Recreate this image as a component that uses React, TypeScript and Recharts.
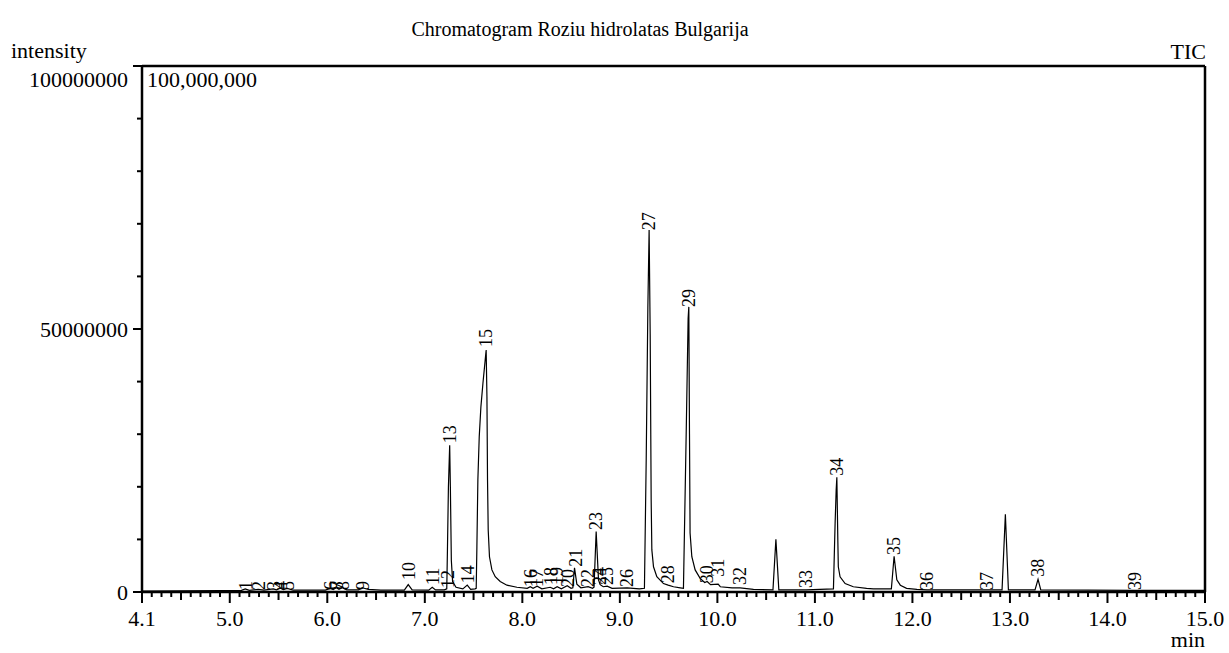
import React from 'react';
import { ComposedChart, Line, Scatter, XAxis, YAxis, ReferenceLine } from 'recharts';

const chartTitle = 'Chromatogram Roziu hidrolatas Bulgarija';
const yAxisTitle = 'intensity';
const traceName = 'TIC';
const scaleNote = '100,000,000';
const xAxisUnit = 'min';

const xMajorTicks = [4.1, 5, 6, 7, 8, 9, 10, 11, 12, 13, 14, 15];
const xMajorLabels = ['4.1', '5.0', '6.0', '7.0', '8.0', '9.0', '10.0', '11.0', '12.0', '13.0', '14.0', '15.0'];
const xAllTicks = Array.from({ length: 110 }, (_, i) => (41 + i) / 10);

// intensity in millions
const yAllTicks = [0, 10, 20, 30, 40, 50, 60, 70, 80, 90, 100];
const yMajorTicks = [0, 50, 100];
const yMajorLabels = ['0', '50000000', '100000000'];

// [retention time (min), intensity (millions)]
const chromatogramTrace: [number, number][] = [
  [4.10, 0.15], [4.50, 0.2], [4.90, 0.25], [5.12, 0.3], [5.159, 0.6], [5.20, 0.3],
  [5.292, 0.5], [5.35, 0.35], [5.446, 0.6], [5.48, 0.4], [5.518, 0.7], [5.55, 0.45],
  [5.589, 0.7], [5.65, 0.35], [5.98, 0.35], [6.03, 0.7], [6.06, 0.45], [6.092, 0.8],
  [6.12, 0.5], [6.153, 0.8], [6.20, 0.4], [6.32, 0.4], [6.358, 0.8], [6.42, 0.5],
  [6.55, 0.35], [6.79, 0.35], [6.83, 1.4], [6.87, 0.4], [7.04, 0.35], [7.076, 0.9],
  [7.11, 0.4], [7.20, 0.4], [7.225, 0.6], [7.232, 8.0], [7.242, 20.0], [7.255, 27.9],
  [7.262, 20.0], [7.272, 6.0], [7.285, 2.0], [7.32, 0.9], [7.39, 0.6], [7.435, 1.3],
  [7.47, 0.5], [7.515, 0.6], [7.527, 0.7], [7.534, 8.6], [7.544, 21.3], [7.558, 29.5],
  [7.575, 35.2], [7.596, 39.7], [7.619, 44.1], [7.629, 46.0], [7.637, 37.1], [7.643, 21.3],
  [7.65, 11.8], [7.663, 6.7], [7.688, 4.2], [7.722, 2.9], [7.773, 2.0], [7.842, 1.3],
  [7.944, 0.9], [8.05, 0.7], [8.081, 1.0], [8.11, 0.7], [8.152, 1.1], [8.20, 0.6],
  [8.286, 0.9], [8.32, 0.6], [8.357, 1.0], [8.40, 0.6], [8.46, 1.2], [8.50, 0.7],
  [8.518, 0.8], [8.535, 4.6], [8.559, 1.5], [8.60, 0.8], [8.675, 1.0], [8.72, 0.7],
  [8.735, 0.9], [8.757, 11.5], [8.781, 2.3], [8.798, 1.4], [8.83, 1.0], [8.87, 1.1],
  [8.92, 0.7], [9.075, 0.8], [9.20, 0.6], [9.252, 0.7], [9.27, 25.0], [9.287, 54.0],
  [9.30, 68.8], [9.311, 49.0], [9.321, 17.5], [9.328, 8.0], [9.345, 4.8], [9.379, 2.9],
  [9.447, 1.6], [9.495, 1.3], [9.55, 1.0], [9.62, 0.8], [9.652, 0.7], [9.68, 30.0],
  [9.70, 52.0], [9.707, 54.2], [9.714, 30.0], [9.72, 11.2], [9.738, 6.7], [9.772, 4.2],
  [9.823, 2.6], [9.87, 1.8], [9.895, 2.0], [9.93, 1.4], [10.008, 1.5], [10.03, 1.0],
  [10.15, 0.8], [10.233, 0.8], [10.37, 0.5], [10.57, 0.4], [10.60, 10.0], [10.63, 0.4],
  [10.91, 0.4], [11.19, 0.6], [11.207, 13.0], [11.218, 19.4], [11.225, 21.8], [11.235, 9.9],
  [11.24, 4.8], [11.258, 2.9], [11.31, 1.6], [11.394, 1.0], [11.53, 0.7], [11.60, 0.6],
  [11.784, 0.6], [11.812, 6.8], [11.84, 2.3], [11.876, 1.3], [11.94, 0.7], [12.045, 0.5],
  [12.15, 0.4], [12.765, 0.4], [12.919, 0.4], [12.953, 14.8], [12.984, 0.4], [13.257, 0.4],
  [13.288, 2.4], [13.316, 0.4], [14.28, 0.3], [15.0, 0.3],
];

const peakNumbers = [
  1, 2, 3, 4, 5, 6, 7, 8, 9, 10, 11, 12, 13, 14, 15, 16, 17, 18, 19, 20,
  21, 22, 23, 24, 25, 26, 27, 28, 29, 30, 31, 32, 33, 34, 35, 36, 37, 38, 39,
];
const peakTimes = [
  5.159, 5.292, 5.446, 5.518, 5.589, 6.03, 6.092, 6.153, 6.358, 6.83,
  7.076, 7.23, 7.258, 7.435, 7.629, 8.081, 8.152, 8.286, 8.357, 8.46,
  8.542, 8.675, 8.757, 8.798, 8.87, 9.075, 9.30, 9.495, 9.71, 9.895,
  10.008, 10.233, 10.91, 11.228, 11.812, 12.15, 12.765, 13.288, 14.28,
];
const peakLabelHeights = [
  0, 0, 0, 0, 0, 0, 0, 0, 0, 1.9,
  0.95, 0.4, 27.9, 1.3, 46.2, 0.57, 0.57, 0.95, 0.95, 0.57,
  4.4, 0.57, 11.4, 0.95, 0.95, 0.57, 68.4, 1.3, 53.8, 1.3,
  2.5, 0.95, 0.4, 21.7, 6.65, 0, 0, 2.5, 0,
];

const traceData = chromatogramTrace.map(([t, v]) => ({ t, v }));
const labelData = peakNumbers.map((n, i) => ({ t: peakTimes[i], v: peakLabelHeights[i], n }));

const FONT = '"Liberation Serif", "Times New Roman", serif';

const XTick = (props: any) => {
  const { x, y, payload } = props;
  const k = Math.round(payload.value * 10);
  const idx = xMajorTicks.findIndex((m) => Math.round(m * 10) === k);
  const isMajor = idx >= 0;
  const isMid = !isMajor && k % 5 === 0;
  const len = isMajor ? 11 : isMid ? 8 : 5;
  return (
    <g>
      <line x1={x} x2={x} y1={y} y2={y + len} stroke="#000" strokeWidth={2} />
      {isMajor && (
        <text x={x} y={y + 34} textAnchor="middle" fontSize={22} fontFamily={FONT} fill="#000">
          {xMajorLabels[idx]}
        </text>
      )}
    </g>
  );
};

const YTick = (props: any) => {
  const { x, y, payload } = props;
  const v = payload.value;
  const idx = yMajorTicks.indexOf(v);
  const len = idx >= 0 ? 9 : 5;
  return (
    <g>
      <line x1={x} x2={x - len} y1={y} y2={y} stroke="#000" strokeWidth={2} />
      {idx >= 0 && (
        <text
          x={x - 14}
          y={y + 7.5 + (idx === yMajorTicks.length - 1 ? 13.5 : 0)}
          textAnchor="end"
          fontSize={22}
          fontFamily={FONT}
          fill="#000"
        >
          {yMajorLabels[idx]}
        </text>
      )}
    </g>
  );
};

const PeakLabel = (props: any) => {
  const { cx, cy, payload } = props;
  if (cx == null || cy == null) return <g />;
  return (
    <text
      transform={`translate(${cx},${cy - 2}) rotate(-90)`}
      x={0}
      y={0}
      dy="0.35em"
      textAnchor="start"
      fontSize={18}
      fontFamily={FONT}
      fill="#000"
    >
      {payload.n}
    </text>
  );
};

export default function App() {
  return (
    <div style={{ position: 'absolute', left: 0, top: 0, width: 1229, height: 653, background: '#fff' }}>
      <ComposedChart width={1229} height={653} margin={{ top: 66, right: 24, bottom: 21, left: 12 }}>
        <XAxis
          type="number"
          dataKey="t"
          domain={[4.1, 15]}
          ticks={xAllTicks}
          interval={0}
          tick={<XTick />}
          tickLine={false}
          tickSize={0}
          tickMargin={0}
          height={40}
          axisLine={{ stroke: '#000', strokeWidth: 2.5 }}
          allowDataOverflow
        />
        <YAxis
          type="number"
          dataKey="v"
          domain={[0, 100]}
          ticks={yAllTicks}
          interval={0}
          tick={<YTick />}
          tickLine={false}
          tickSize={0}
          tickMargin={0}
          width={130}
          axisLine={{ stroke: '#000', strokeWidth: 2.5 }}
          allowDataOverflow
        />
        <ReferenceLine y={100} stroke="#000" strokeWidth={2.5} />
        <ReferenceLine x={15} stroke="#000" strokeWidth={2.5} />
        <Line
          data={traceData}
          dataKey="v"
          type="linear"
          stroke="#000"
          strokeWidth={1.2}
          dot={false}
          activeDot={false}
          isAnimationActive={false}
        />
        <Scatter data={labelData} dataKey="v" shape={<PeakLabel />} isAnimationActive={false} />
      </ComposedChart>
      <svg
        width={1229}
        height={653}
        style={{ position: 'absolute', left: 0, top: 0, pointerEvents: 'none' }}
      >
        <text x={580} y={36} textAnchor="middle" fontSize={20} fontFamily={FONT} fill="#000">
          {chartTitle}
        </text>
        <text x={11} y={58} fontSize={22} fontFamily={FONT} fill="#000">
          {yAxisTitle}
        </text>
        <text x={1206} y={59} textAnchor="end" fontSize={22} fontFamily={FONT} fill="#000">
          {traceName}
        </text>
        <text x={147} y={87} fontSize={22} fontFamily={FONT} fill="#000">
          {scaleNote}
        </text>
        <text x={1205} y={647} textAnchor="end" fontSize={22} fontFamily={FONT} fill="#000">
          {xAxisUnit}
        </text>
      </svg>
    </div>
  );
}
